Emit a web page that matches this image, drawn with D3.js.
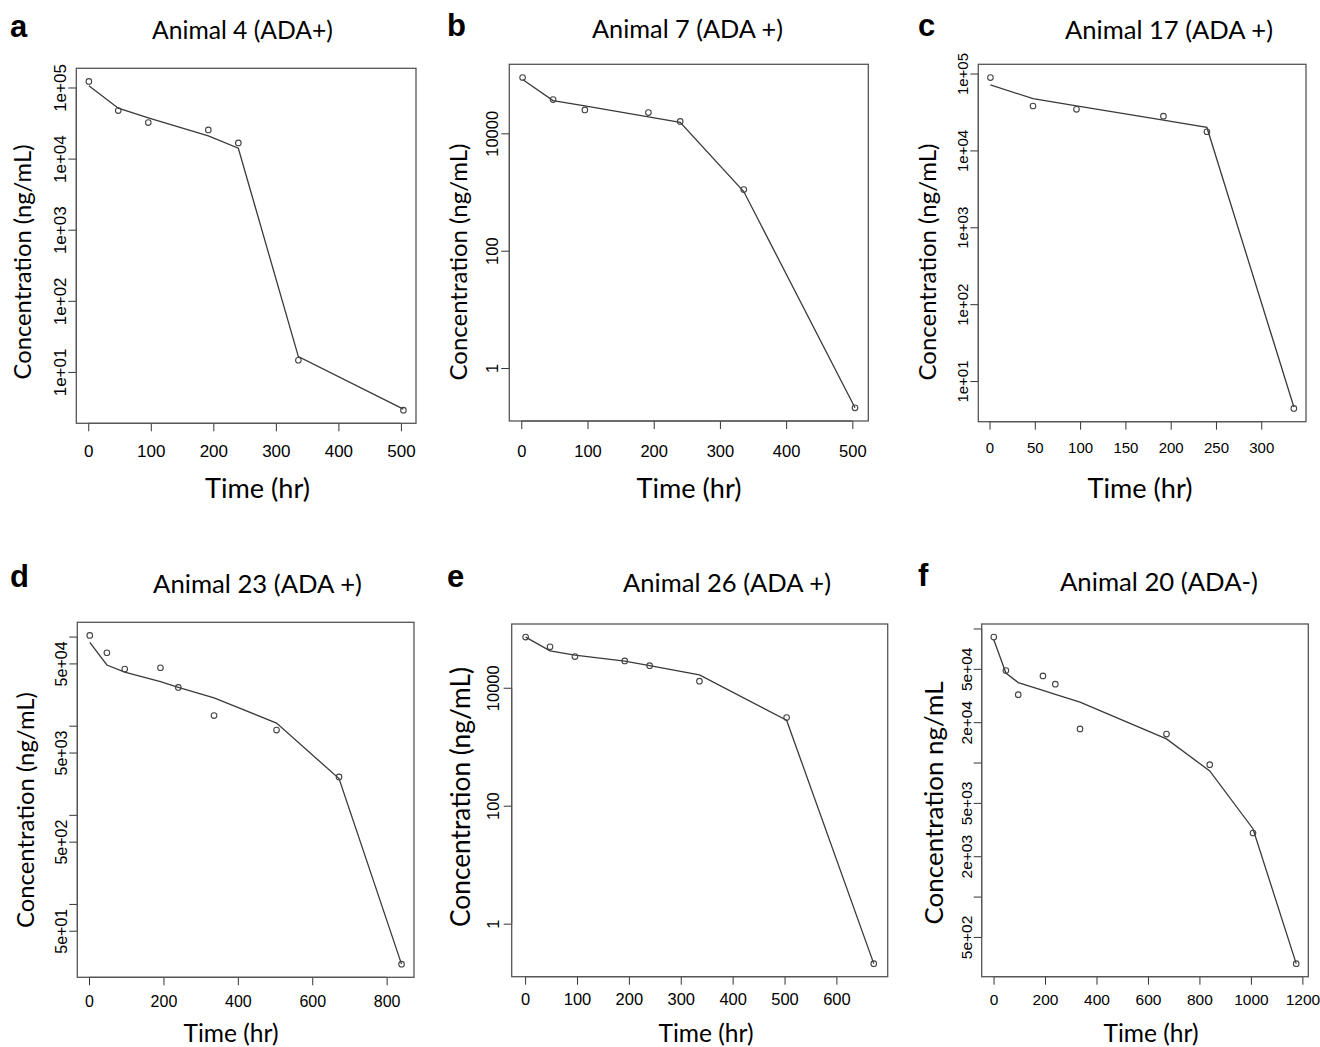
<!DOCTYPE html>
<html>
<head>
<meta charset="utf-8">
<script src="https://cdn.jsdelivr.net/npm/d3@7"></script>
<style>
  body { margin: 0; background: #fff; }
  svg { display: block; }
</style>
</head>
<body>
<svg id="chart" width="1320" height="1047"></svg>
<script>
// ---- Concentration-time data (observed points and fitted curve), ng/mL vs hr ----

// Animal 4 (ADA+)
const time4 = [1, 48, 96, 192, 240, 336, 504];
const obs4  = [121600, 47400, 32100, 25300, 16600, 14.6, 2.9];
const fit4  = [105700, 51200, 37500, 20800, 13970, 16.4, 3.0];
const xTicks4 = [0, 100, 200, 300, 400, 500];
const yTicks4 = [1e5, 1e4, 1e3, 1e2, 1e1];
const yTickLabels4 = ["1e+05", "1e+04", "1e+03", "1e+02", "1e+01"];

// Animal 7 (ADA +)
const time7 = [2, 48, 96, 192, 240, 336, 504];
const obs7  = [89500, 37700, 25100, 22600, 16000, 1100, 0.21];
const fit7  = [82800, 36200, 29300, 19100, 15400, 1020, 0.21];
const xTicks7 = [0, 100, 200, 300, 400, 500];
const yTicks7 = [1e4, 1e2, 1];
const yTickLabels7 = ["10000", "100", "1"];

// Animal 17 (ADA +)
const time17 = [1, 48, 96, 192, 240, 336];
const obs17  = [88700, 37800, 34200, 27900, 17500, 4.4];
const fit17  = [71100, 47100, 38000, 24700, 19900, 4.6];
const xTicks17 = [0, 50, 100, 150, 200, 250, 300];
const yTicks17 = [1e5, 1e4, 1e3, 1e2, 1e1];
const yTickLabels17 = ["1e+05", "1e+04", "1e+03", "1e+02", "1e+01"];

// Animal 23 (ADA +)
const time23 = [2, 48, 96, 192, 240, 336, 504, 672, 840];
const obs23  = [103000, 65900, 43300, 44700, 26900, 13000, 8930, 2660, 21.1];
const fit23  = [86000, 48000, 40000, 31300, 27000, 20500, 10700, 2550, 21.1];
const xTicks23 = [0, 200, 400, 600, 800];
const yTicks23 = [1e5, 5e4, 1e4, 5e3, 1e3, 5e2, 1e2, 5e1];
const yTickLabels23 = ["", "5e+04", "", "5e+03", "", "5e+02", "", "5e+01"];

// Animal 26 (ADA +)
const time26 = [1, 48, 96, 192, 240, 336, 504, 672];
const obs26  = [72300, 49400, 33800, 28500, 23700, 12900, 3130, 0.21];
const fit26  = [72300, 42300, 35700, 28200, 23700, 16500, 2810, 0.21];
const xTicks26 = [0, 100, 200, 300, 400, 500, 600];
const yTicks26 = [1e4, 1e2, 1];
const yTickLabels26 = ["10000", "100", "1"];

// Animal 20 (ADA-)
const time20 = [1, 48, 96, 192, 240, 336, 672, 840, 1008, 1176];
const obs20  = [86300, 48600, 32100, 44300, 38400, 17800, 16300, 9640, 2980, 316];
const fit20  = [82400, 46500, 39500, 34500, 32200, 28200, 15000, 8650, 3210, 316];
const xTicks20 = [0, 200, 400, 600, 800, 1000, 1200];
const yTicks20 = [1e5, 5e4, 2e4, 1e4, 5e3, 2e3, 1e3, 5e2];
const yTickLabels20 = ["", "5e+04", "2e+04", "", "5e+03", "2e+03", "", "5e+02"];

const panelLetters = ["a", "b", "c", "d", "e", "f"];
const panelTitles = ["Animal 4 (ADA+)", "Animal 7 (ADA +)", "Animal 17 (ADA +)",
                     "Animal 23 (ADA +)", "Animal 26 (ADA +)", "Animal 20 (ADA-)"];
const yTitles = ["Concentration (ng/mL)", "Concentration (ng/mL)", "Concentration (ng/mL)",
                 "Concentration (ng/mL)", "Concentration (ng/mL)", "Concentration ng/mL"];
const xTitle = "Time (hr)";

// ---- Panel layout (plot box, text placement, sizes) ----
const layout = [
  { box: [76.3, 68.3, 416, 423.3],   tickFs: 17,   xGap: 34, yGap: 10.5,
    title: [242.5, 39, 181], letter: [10, 37], yT: [22, 262, 235], xT: [257.5, 498, 105] },
  { box: [509.3, 64.3, 868.3, 421],  tickFs: 16.5, xGap: 36, yGap: 11,
    title: [687.5, 37.5, 191], letter: [447, 36], yT: [457, 262, 237], xT: [689, 498, 105] },
  { box: [978.3, 64.3, 1306, 421.7], tickFs: 15,   xGap: 31.5, yGap: 10,
    title: [1169, 39, 208], letter: [918, 36], yT: [926, 262, 237], xT: [1140, 498, 105] },
  { box: [77.3, 622.3, 414, 977.3],  tickFs: 16,   xGap: 30, yGap: 10.5,
    title: [257.5, 592.5, 209], letter: [10, 587], yT: [24, 810, 236], xT: [231, 1042, 95] },
  { box: [511.7, 624, 887.7, 976.7], tickFs: 16.5, xGap: 28.5, yGap: 13,
    title: [727, 592, 208], letter: [447, 587], yT: [460, 797, 260], xT: [706, 1042, 95] },
  { box: [981.7, 624, 1308.3, 976.7], tickFs: 15.5, xGap: 28.5, yGap: 9.5,
    title: [1159, 591, 198], letter: [918, 586], yT: [932.5, 803, 243], xT: [1151, 1042, 95] }
];

const panelData = [
  { time: time4,  obs: obs4,  fit: fit4,  xTicks: xTicks4,  yTicks: yTicks4,  yLabels: yTickLabels4 },
  { time: time7,  obs: obs7,  fit: fit7,  xTicks: xTicks7,  yTicks: yTicks7,  yLabels: yTickLabels7 },
  { time: time17, obs: obs17, fit: fit17, xTicks: xTicks17, yTicks: yTicks17, yLabels: yTickLabels17 },
  { time: time23, obs: obs23, fit: fit23, xTicks: xTicks23, yTicks: yTicks23, yLabels: yTickLabels23 },
  { time: time26, obs: obs26, fit: fit26, xTicks: xTicks26, yTicks: yTicks26, yLabels: yTickLabels26 },
  { time: time20, obs: obs20, fit: fit20, xTicks: xTicks20, yTicks: yTicks20, yLabels: yTickLabels20 }
];

const TEXT_FONT = "Lato, 'Open Sans', sans-serif";
const TICK_FONT = "'Liberation Sans', Arial, sans-serif";
const svg = d3.select("#chart");

// Scale a text element's font size so its rendered width equals `width`.
function sizeToWidth(sel, width, startSize) {
  sel.style("font-size", startSize + "px");
  const w = sel.node().getComputedTextLength();
  if (w > 0) sel.style("font-size", (startSize * width / w).toFixed(2) + "px");
  return sel;
}

// Linear range padded by 4% on each side (classic plotting default).
function padLinear(ext) {
  const d = (ext[1] - ext[0]) * 0.04;
  return [ext[0] - d, ext[1] + d];
}
function padLog(ext) {
  const lo = Math.log10(ext[0]), hi = Math.log10(ext[1]);
  const d = (hi - lo) * 0.04;
  return [Math.pow(10, lo - d), Math.pow(10, hi + d)];
}

panelData.forEach((p, i) => {
  const L = layout[i];
  const [x0, y0, x1, y1] = L.box;
  const g = svg.append("g");

  const x = d3.scaleLinear().domain(padLinear(d3.extent(p.time))).range([x0, x1]);
  const y = d3.scaleLog().domain(padLog(d3.extent(p.obs.concat(p.fit)))).range([y1, y0]);

  // x axis
  const xa = g.append("g").attr("transform", `translate(0,${y1})`)
    .call(d3.axisBottom(x).tickValues(p.xTicks).tickSize(8).tickFormat(d3.format("d")));
  xa.select(".domain").remove();
  xa.selectAll(".tick line").attr("stroke", "#333");
  xa.selectAll(".tick text")
    .attr("y", L.xGap).attr("dy", null)
    .style("font-family", TICK_FONT).style("font-size", L.tickFs + "px").attr("fill", "#000");
  xa.append("line")
    .attr("x1", x(p.xTicks[0])).attr("x2", x(p.xTicks[p.xTicks.length - 1]))
    .attr("y1", 0).attr("y2", 0).attr("stroke", "#333");

  // y axis (log), labels rotated parallel to the axis
  const ya = g.append("g").attr("transform", `translate(${x0},0)`)
    .call(d3.axisLeft(y).tickValues(p.yTicks).tickSize(8)
      .tickFormat((d, k) => p.yLabels[k]));
  ya.select(".domain").remove();
  ya.selectAll(".tick line").attr("stroke", "#333");
  ya.selectAll(".tick text")
    .attr("x", null).attr("dy", null)
    .attr("transform", `translate(${-L.yGap},0) rotate(-90)`)
    .attr("text-anchor", "middle")
    .style("font-family", TICK_FONT).style("font-size", L.tickFs + "px").attr("fill", "#000");
  ya.append("line")
    .attr("x1", 0).attr("x2", 0)
    .attr("y1", y(p.yTicks[0])).attr("y2", y(p.yTicks[p.yTicks.length - 1]))
    .attr("stroke", "#333");

  // plot frame
  g.append("rect")
    .attr("x", x0).attr("y", y0).attr("width", x1 - x0).attr("height", y1 - y0)
    .attr("fill", "none").attr("stroke", "#555").attr("stroke-width", 1.3);

  // fitted curve
  const line = d3.line().x(d => x(d[0])).y(d => y(d[1]));
  g.append("path")
    .datum(p.time.map((t, k) => [t, p.fit[k]]))
    .attr("d", line)
    .attr("fill", "none").attr("stroke", "#3a3a3a").attr("stroke-width", 1.3);

  // observed concentrations
  g.selectAll("circle.obs")
    .data(p.time.map((t, k) => [t, p.obs[k]]))
    .join("circle").attr("class", "obs")
    .attr("cx", d => x(d[0])).attr("cy", d => y(d[1])).attr("r", 2.8)
    .attr("fill", "none").attr("stroke", "#444").attr("stroke-width", 1.1);

  // titles
  const title = g.append("text")
    .attr("x", L.title[0]).attr("y", L.title[1]).attr("text-anchor", "middle")
    .style("font-family", TEXT_FONT).attr("fill", "#000")
    .text(panelTitles[i]);
  sizeToWidth(title, L.title[2], 22);

  g.append("text")
    .attr("x", L.letter[0]).attr("y", L.letter[1])
    .style("font-family", "'Liberation Sans', Arial, sans-serif")
    .style("font-weight", "bold").style("font-size", "31px").attr("fill", "#000")
    .text(panelLetters[i]);

  const yt = g.append("text")
    .attr("transform", `translate(${L.yT[0]},${L.yT[1]}) rotate(-90)`)
    .attr("text-anchor", "middle").attr("dominant-baseline", "central")
    .style("font-family", TEXT_FONT).attr("fill", "#000")
    .text(yTitles[i]);
  sizeToWidth(yt, L.yT[2], 24);

  const xt = g.append("text")
    .attr("x", L.xT[0]).attr("y", L.xT[1]).attr("text-anchor", "middle")
    .style("font-family", TEXT_FONT).attr("fill", "#000")
    .text(xTitle);
  sizeToWidth(xt, L.xT[2], 26);
});
</script>
</body>
</html>
